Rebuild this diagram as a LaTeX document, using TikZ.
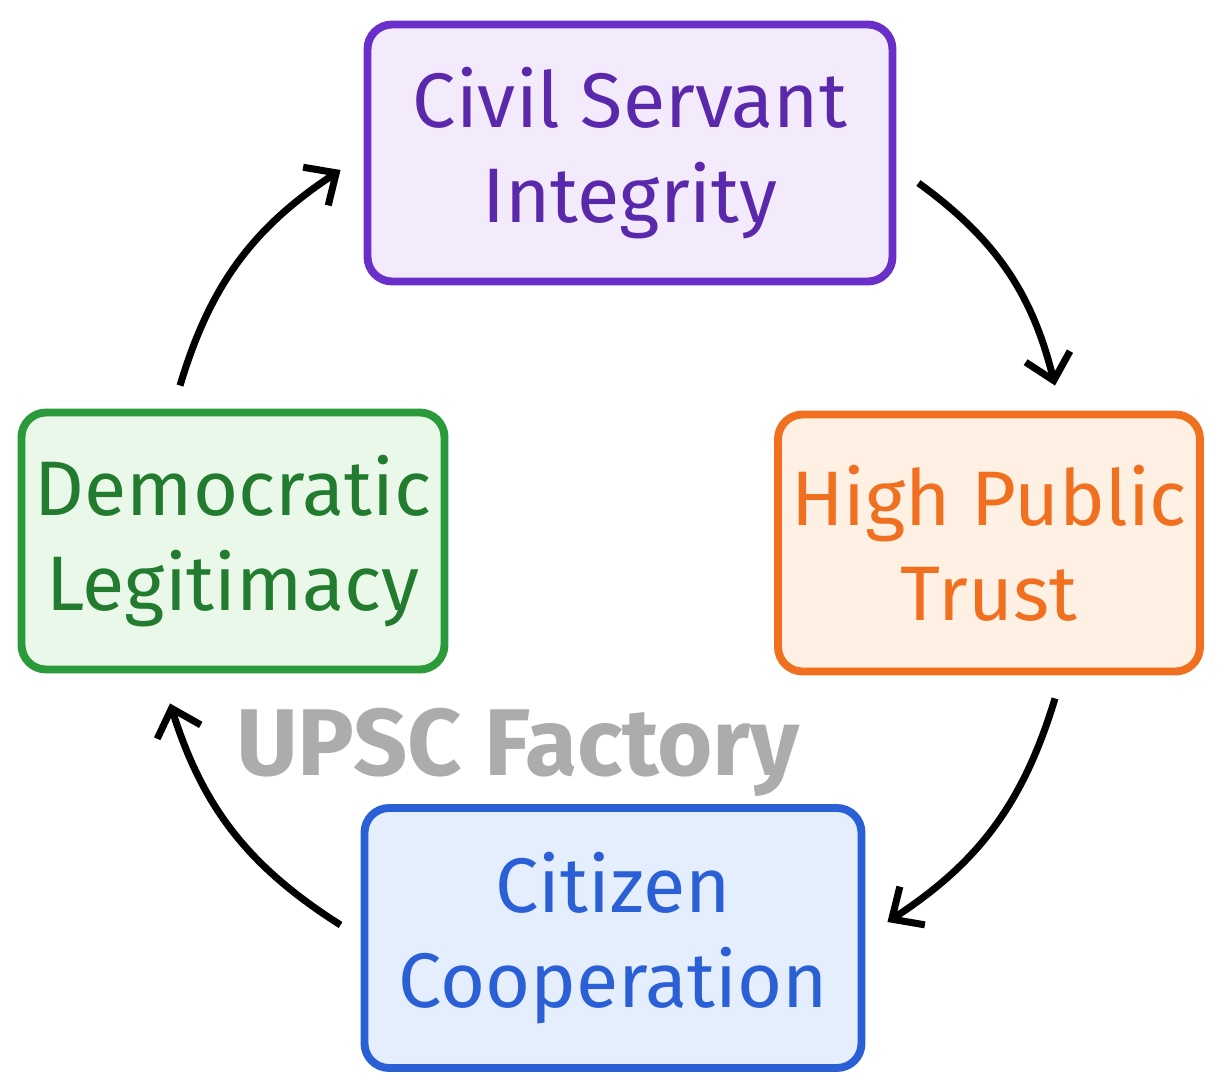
\documentclass[tikz,border=0pt]{standalone}
\usepackage{fontspec}
\setmainfont{Fira Sans}
\usetikzlibrary{arrows.meta,positioning}
\definecolor{purpleline}{HTML}{6A2FC9}
\definecolor{purplefill}{HTML}{F3EAFC}
\definecolor{orangeline}{HTML}{F07020}
\definecolor{orangefill}{HTML}{FFF0E4}
\definecolor{blueline}{HTML}{2A5FD6}
\definecolor{bluefill}{HTML}{E4EEFC}
\definecolor{greenline}{HTML}{2A9A3A}
\definecolor{greenfill}{HTML}{E9F8E8}
\tikzset{
	box/.style={draw, line width=4.5pt, rounded corners=14pt, align=center,
		font=\fontsize{44}{54}\selectfont, inner sep=0pt},
	flow/.style={line width=4pt, -{Straight Barb[length=14pt,width=26pt,line width=4pt]}}
}
\begin{document}
\begin{tikzpicture}[x=0.02cm,y=-0.02cm]
	\useasboundingbox (0,0) rectangle (1225,1092);
	%The four stages
	\node [box, draw=purpleline, fill=purplefill, text=purpleline!85!black,
		minimum width=525*0.02cm, minimum height=257*0.02cm] (civil) at (630,153) {Civil Servant\\Integrity};
	\node [box, draw=orangeline, fill=orangefill, text=orangeline,
		minimum width=422*0.02cm, minimum height=257*0.02cm] (trust) at (989,543) {High Public\\Trust};
	\node [box, draw=blueline, fill=bluefill, text=blueline,
		minimum width=497*0.02cm, minimum height=260*0.02cm] (citizen) at (613,938) {Citizen\\Cooperation};
	\node [box, draw=greenline, fill=greenfill, text=greenline!80!black,
		minimum width=423*0.02cm, minimum height=257*0.02cm] (demo) at (233,541) {Democratic\\Legitimacy};
	%Watermark
	\node [text=gray!65, font=\fontsize{54}{60}\selectfont\bfseries] (mark) at (518,752) {UPSC Factory};
	%Arrows around the cycle
	\coordinate (a1) at ([shift={(22,30)}]civil.east);
	\coordinate (a2) at ([shift={(66,-25)}]trust.north);
	\coordinate (b1) at ([shift={(66,23)}]trust.south);
	\coordinate (b2) at ([shift={(22,-16)}]citizen.east);
	\coordinate (c1) at ([shift={(-20,-13)}]citizen.west);
	\coordinate (c2) at ([shift={(-63,30)}]demo.south);
	\coordinate (d1) at ([shift={(-53,-23)}]demo.north);
	\coordinate (d2) at ([shift={(-23,17)}]civil.west);
	\draw [flow] (a1) to[bend left=20] (a2);
	\draw [flow] (b1) to[bend left=20] (b2);
	\draw [flow] (c1) to[bend left=20] (c2);
	\draw [flow] (d1) to[bend left=20] (d2);
\end{tikzpicture}
\end{document}
